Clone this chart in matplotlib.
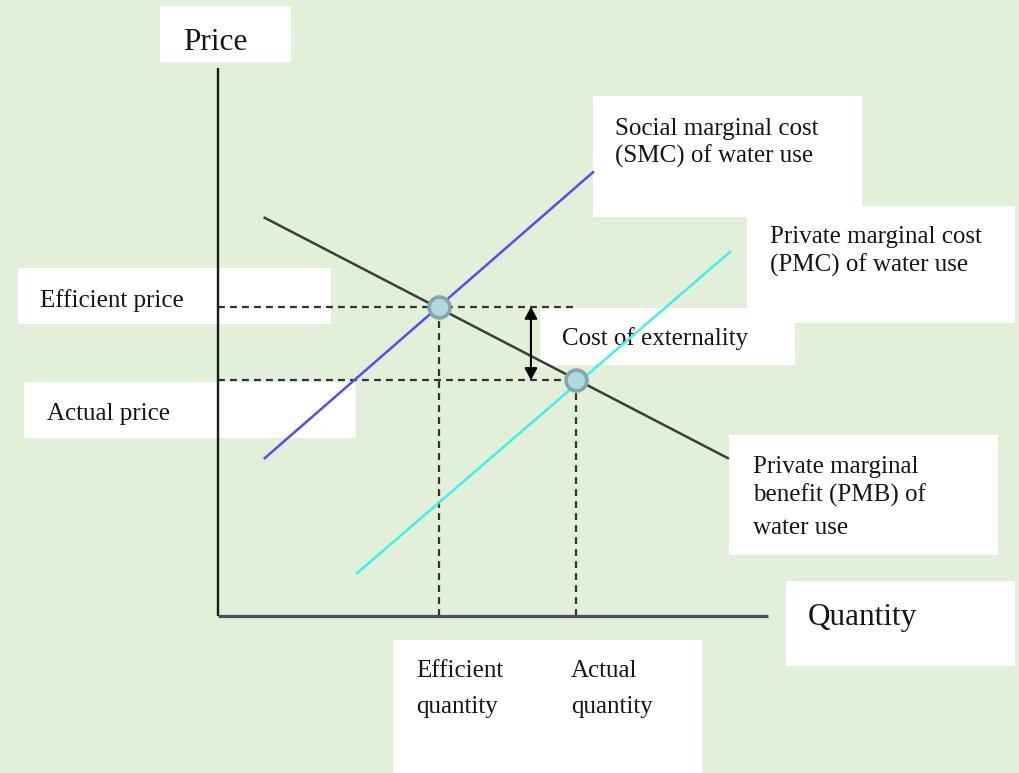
import matplotlib
matplotlib.use("Agg")
import matplotlib.pyplot as plt
from matplotlib.patches import Rectangle

# ---------------- data (economic units: quantity, price) ----------------
axis_max_q = 10.0
axis_max_p = 9.96

pmb_q = [0.85, 9.27]      # private marginal benefit (demand)
pmb_p = [7.24, 2.87]
smc_q = [0.85, 6.82]      # social marginal cost
smc_p = [2.87, 8.07]
pmc_q = [2.53, 9.31]      # private marginal cost
pmc_p = [0.78, 6.62]

eff_q, eff_p = 4.02, 5.62        # efficient equilibrium
act_q, act_p = 6.51, 4.29        # actual equilibrium
dash_right_q = 6.53              # end of efficient-price dashed line
arrow_q = 5.69                   # position of the externality arrow

# ---------------- labels ----------------
price_label = "Price"
quantity_label = "Quantity"
smc_label = ["Social marginal cost", "(SMC) of water use"]
pmc_label = ["Private marginal cost", "(PMC) of water use"]
pmb_label = ["Private marginal", "benefit (PMB) of", "water use"]
ext_label = "Cost of externality"
eff_price_label = "Efficient price"
act_price_label = "Actual price"
eff_qty_label = ["Efficient", "quantity"]
act_qty_label = ["Actual", "quantity"]

# ---------------- figure ----------------
W, H = 1020, 773
BG = "#E2EFD9"
fig = plt.figure(figsize=(W / 100, H / 100), dpi=100)
fig.patch.set_facecolor(BG)

# layout layer (pixel coordinates) for label boxes and texts
lay = fig.add_axes([0, 0, 1, 1], zorder=1)
lay.set_xlim(0, W)
lay.set_ylim(H, 0)
lay.axis("off")
lay.set_facecolor(BG)

SERIF = ["Liberation Serif", "DejaVu Serif"]
TXT = "#151515"

def box(x0, y0, x1, y1):
    lay.add_patch(Rectangle((x0, y0), x1 - x0, y1 - y0, facecolor="white",
                            edgecolor="none", zorder=1))

def lines(x, baselines, texts, size=18):
    for yb, t in zip(baselines, texts):
        lay.text(x, yb, t, fontsize=size, family=SERIF, color=TXT,
                 va="baseline", ha="left", zorder=3)

box(160, 6, 291, 62)
lines(183, [50], [price_label], size=22.5)

box(593, 96, 862, 217)
lines(615, [135, 163], smc_label)

box(747, 206, 1015, 323)
lines(770, [243, 272], pmc_label)

box(540, 308, 795, 365)
lines(562, [345], [ext_label])

box(18, 268, 331, 324)
lines(40, [307], [eff_price_label])

box(24, 382, 356, 438)
lines(47, [420], [act_price_label])

box(729, 435, 998, 555)
lines(753, [473, 502, 534], pmb_label)

box(786, 581, 1015, 666)
lines(808, [625], [quantity_label], size=22.5)

box(393, 640, 702, 790)
lines(416, [677, 713], eff_qty_label)
lines(571, [677, 713], act_qty_label)

# main diagram layer (data coordinates), transparent, on top
ox, oy, unit = 218, 616, 55.0
ax = fig.add_axes([0, 0, 1, 1], zorder=2)
ax.set_xlim(-ox / unit, (W - ox) / unit)
ax.set_ylim(-(H - oy) / unit, oy / unit)
ax.axis("off")
ax.patch.set_alpha(0)

# axes lines
ax.plot([0, 0], [0, axis_max_p], color="#1a1a1a", lw=1.7, solid_capstyle="butt", zorder=3)
ax.plot([0, axis_max_q], [0, 0], color="#505050", lw=2.3, solid_capstyle="butt", zorder=3)

# dashed guide lines
dash = dict(color="#353535", lw=1.6, dashes=(3.1, 2.3), zorder=2)
ax.plot([0, dash_right_q], [eff_p, eff_p], **dash)
ax.plot([0, act_q], [act_p, act_p], **dash)
ax.plot([eff_q, eff_q], [0, eff_p], **dash)
ax.plot([act_q, act_q], [0, act_p], **dash)

# curves
ax.plot(pmb_q, pmb_p, color="#3c3c3c", lw=1.8, zorder=4)
ax.plot(smc_q, smc_p, color="#5050F2", lw=1.8, zorder=4)
ax.plot(pmc_q, pmc_p, color="#40F0EC", lw=1.8, zorder=4)

# cost of externality arrow
ax.annotate("", xy=(arrow_q, eff_p), xytext=(arrow_q, act_p),
            arrowprops=dict(arrowstyle="<|-|>,head_length=0.7,head_width=0.38",
                            color="black", lw=1.5, shrinkA=0, shrinkB=0),
            zorder=5)

# equilibrium points
ax.plot([eff_q, act_q], [eff_p, act_p], linestyle="none", marker="o",
        markersize=15, markerfacecolor="#AEDADF", markeredgecolor="#86A6AE",
        markeredgewidth=2.6, zorder=6)

fig.savefig("out.png", dpi=100, facecolor=BG)
